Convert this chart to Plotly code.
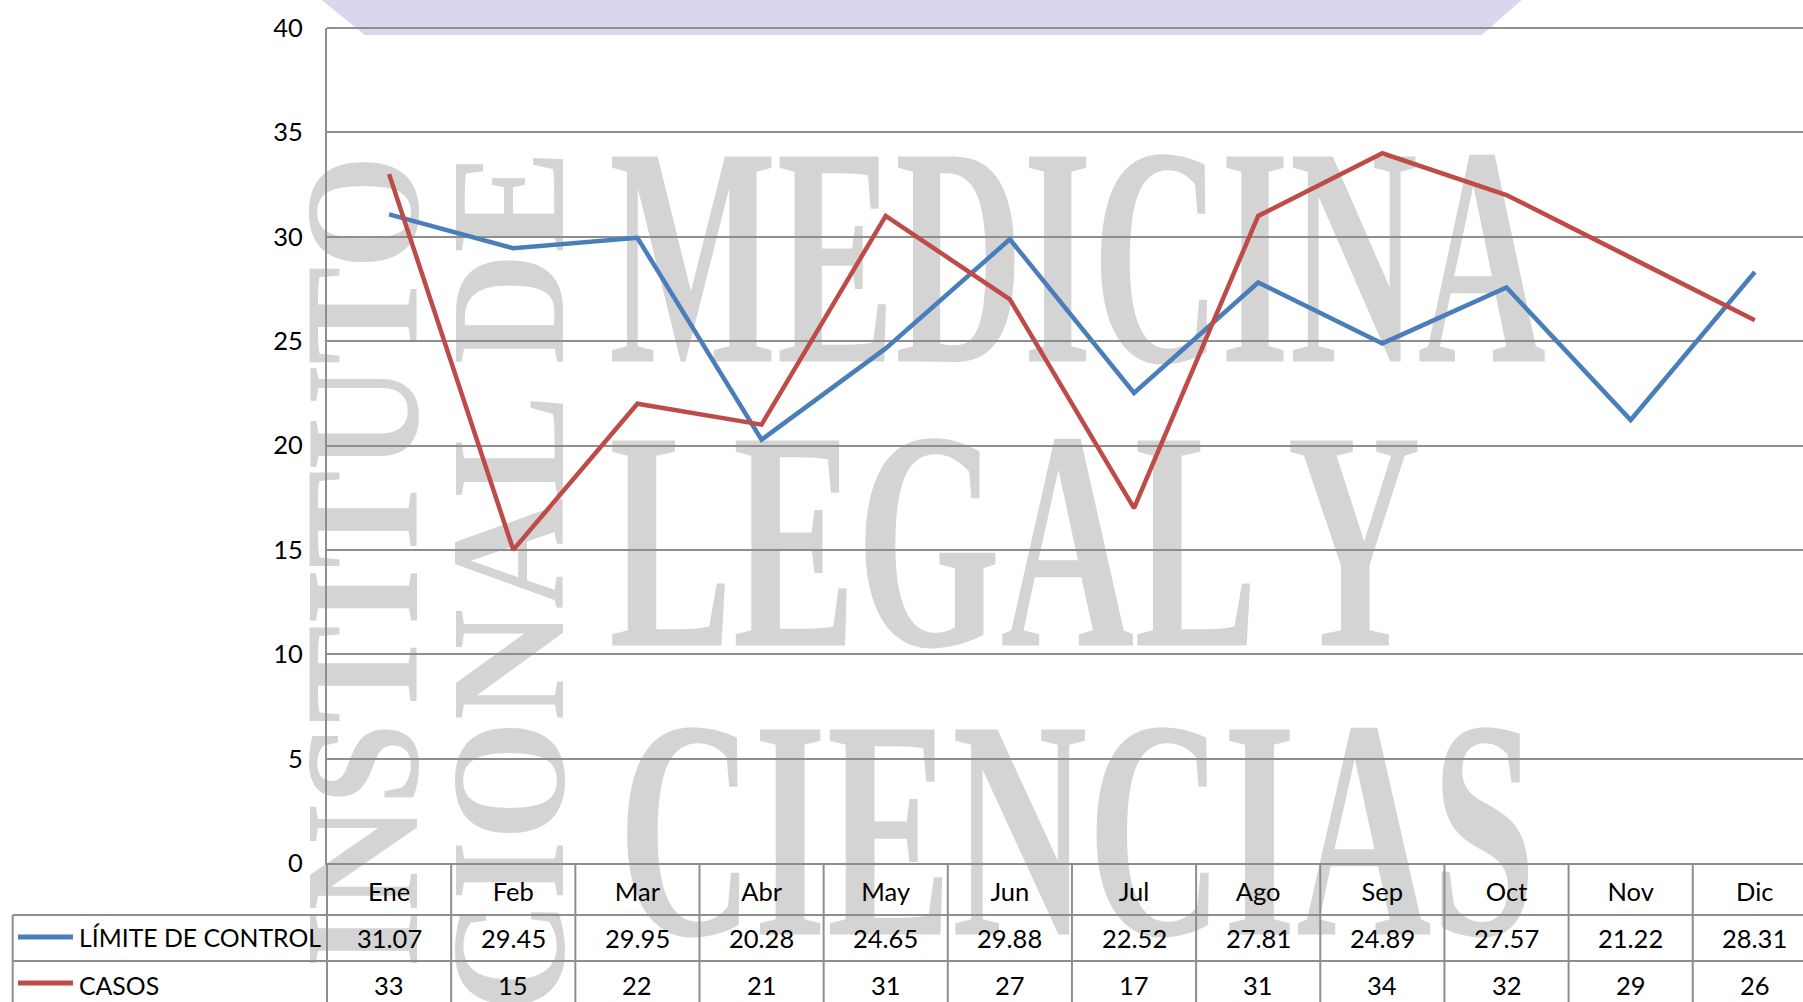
import plotly.graph_objects as go

# ---------------- data ----------------
months = ["Ene", "Feb", "Mar", "Abr", "May", "Jun", "Jul", "Ago", "Sep", "Oct", "Nov", "Dic"]
limite_control = [31.07, 29.45, 29.95, 20.28, 24.65, 29.88, 22.52, 27.81, 24.89, 27.57, 21.22, 28.31]
casos = [33, 15, 22, 21, 31, 27, 17, 31, 34, 32, 29, 26]
series_names = ["LÍMITE DE CONTROL", "CASOS"]
y_ticks = [0, 5, 10, 15, 20, 25, 30, 35, 40]
watermark_words = ["MEDICINA", "LEGAL Y", "CIENCIAS", "INSTITUTO", "NACIONAL DE"]

# ---------------- layout geometry ----------------
W, H = 1803, 1002
ML, MR, MT, MB = 327, 0, 28, 139
PW, PH = W - ML - MR, H - MT - MB
XR = (-0.5, 11.388)

BLUE = "#4A7EBB"
RED = "#BE4B48"
GRID = "#8E8E8E"
FONT = "Lato"
FS = 25.5


def px_x(px):
    return (px - ML) / PW


def px_y(py):
    return (H - MB - py) / PH


def cat_x(v):
    return (v - XR[0]) / (XR[1] - XR[0])


fig = go.Figure()
fig.add_trace(go.Scatter(x=months, y=limite_control, mode="lines", name=series_names[0],
                         line=dict(color=BLUE, width=4.5), hoverinfo="skip"))
fig.add_trace(go.Scatter(x=months, y=casos, mode="lines", name=series_names[1],
                         line=dict(color=RED, width=4.5), hoverinfo="skip"))

shapes = []
# lavender band at the top
tz = [(321.7, 0), (365, 35), (1481.7, 35), (1521.7, 0)]
path = "M " + " L ".join(f"{px_x(a):.5f},{px_y(b):.5f}" for a, b in tz) + " Z"
shapes.append(dict(type="path", xref="paper", yref="paper", path=path, layer="below",
                   fillcolor="#D9D6EE", line=dict(width=0)))

# watermark words (shape labels drawn below gridlines)
wm_sizes = {"MEDICINA": 313, "LEGAL Y": 313, "CIENCIAS": 313, "INSTITUTO": 163, "NACIONAL DE": 163}
for w in watermark_words:
    rot = w in ("INSTITUTO", "NACIONAL DE")
    shapes.append(dict(type="rect", xref="paper", yref="paper", x0=0.2, x1=0.8, y0=0.3, y1=0.7,
                       layer="below", fillcolor="rgba(0,0,0,0)", line=dict(width=0),
                       label=dict(text=w, textangle=-90 if rot else 0, textposition="middle center",
                                  font=dict(family="Liberation Serif", size=wm_sizes[w],
                                            color="#D4D4D4", weight="bold"))))

# top gridline (value 40) at the upper edge of the plot area
shapes.append(dict(type="line", xref="paper", yref="paper", x0=0, x1=1, y0=1, y1=1,
                   line=dict(color=GRID, width=2), layer="between"))

# data-table grid
line_style = dict(color=GRID, width=2)
y_axis_bottom = px_y(H - MB)
y_row2 = px_y(915)
y_row3 = px_y(961)
y_bottom = px_y(H + 20)
for i in range(len(months) + 1):
    xv = cat_x(i - 0.5)
    if xv > 1.001:
        continue
    shapes.append(dict(type="line", xref="paper", yref="paper", x0=xv, x1=xv,
                       y0=y_axis_bottom, y1=y_bottom, line=line_style, layer="above"))
x_left = px_x(12.7)
shapes.append(dict(type="line", xref="paper", yref="paper", x0=x_left, x1=x_left,
                   y0=y_row2, y1=y_bottom, line=line_style, layer="above"))
for yy in (y_row2, y_row3):
    shapes.append(dict(type="line", xref="paper", yref="paper", x0=x_left, x1=1.0,
                       y0=yy, y1=yy, line=line_style, layer="above"))

# legend keys in the table
key_centers = [937, 983]
key_colors = [BLUE, RED]
for yc, col in zip(key_centers, key_colors):
    shapes.append(dict(type="line", xref="paper", yref="paper", x0=px_x(18), x1=px_x(73),
                       y0=px_y(yc), y1=px_y(yc), line=dict(color=col, width=5), layer="above"))

annotations = []
text_centers = [938, 985]
for name, yc in zip(series_names, text_centers):
    annotations.append(dict(xref="paper", yref="paper", x=px_x(77), y=px_y(yc), text=name,
                            showarrow=False, xanchor="left", yanchor="middle",
                            font=dict(family=FONT, size=24.8, color="black")))
for vals, yc in zip([limite_control, casos], text_centers):
    for m, v in zip(months, vals):
        annotations.append(dict(xref="x", yref="paper", x=m, y=px_y(yc),
                                text=f"{v:g}" if isinstance(v, int) else f"{v:.2f}",
                                showarrow=False, xanchor="center", yanchor="middle",
                                font=dict(family=FONT, size=FS, color="black")))

fig.update_layout(
    width=W, height=H,
    margin=dict(l=ML, r=MR, t=MT, b=MB, pad=0),
    paper_bgcolor="white", plot_bgcolor="rgba(0,0,0,0)",
    showlegend=False, hovermode=False,
    shapes=shapes, annotations=annotations,
    font=dict(family=FONT, size=FS, color="black"),
    xaxis=dict(type="category", categoryorder="array", categoryarray=months, range=list(XR),
               showgrid=False, zeroline=False, showline=True, linecolor=GRID, linewidth=2,
               ticks="", ticklabelstandoff=5, tickfont=dict(family=FONT, size=FS, color="black"),
               fixedrange=True),
    yaxis=dict(range=[0, 40], tickvals=y_ticks, showgrid=True, gridcolor=GRID, gridwidth=2,
               zeroline=False, showline=True, linecolor=GRID, linewidth=2, ticks="",
               ticklabelstandoff=17, tickfont=dict(family=FONT, size=FS, color="black"),
               fixedrange=True),
)

post = r"""
var gd = document.getElementById('{plot_id}');
document.body.style.margin = '0';
document.body.style.overflow = 'hidden';
var specs = {
  'MEDICINA':    {rot:false, a0:609, a1:1546, c:256},
  'LEGAL Y':     {rot:false, a0:609, a1:1421, c:540},
  'CIENCIAS':    {rot:false, a0:618, a1:1536, c:829},
  'INSTITUTO':   {rot:true,  a0:155, a1:968,  c:362},
  'NACIONAL DE': {rot:true,  a0:150, a1:1235, c:508}
};
var NS = 'http://www.w3.org/2000/svg';
function fitWM(){
  var base = gd.getBoundingClientRect();
  var texts = gd.querySelectorAll('text');
  for (var i = 0; i < texts.length; i++){
    var t = texts[i];
    var key = (t.textContent || '').replace(/[\s\u00a0]+/g, ' ').trim();
    var s = specs[key];
    if (!s) continue;
    var w = t.parentNode;
    if (!((w.getAttribute('class') || '').match(/wm-wrap/))){
      var nw = document.createElementNS(NS, 'g');
      nw.setAttribute('class', 'wm-wrap');
      w.insertBefore(nw, t); nw.appendChild(t); w = nw;
    }
    w.removeAttribute('transform');
    var r = t.getBoundingClientRect();
    var ctm = w.getScreenCTM();
    var ox = ctm.e, oy = ctm.f;
    var a0, a1, c, k, tx, ty;
    if (!s.rot){
      a0 = base.left + s.a0; a1 = base.left + s.a1; c = base.top + s.c;
      k = (a1 - a0) / (r.right - r.left);
      tx = (a0 - ox) - k * (r.left - ox);
      ty = c - (r.top + r.bottom) / 2;
      w.setAttribute('transform', 'matrix(' + k + ',0,0,1,' + tx + ',' + ty + ')');
    } else {
      a0 = base.top + s.a0; a1 = base.top + s.a1; c = base.left + s.c;
      k = (a1 - a0) / (r.bottom - r.top);
      ty = (a0 - oy) - k * (r.top - oy);
      tx = c - (r.left + r.right) / 2;
      w.setAttribute('transform', 'matrix(1,0,0,' + k + ',' + tx + ',' + ty + ')');
    }
  }
}
fitWM();
gd.on('plotly_afterplot', fitWM);
if (document.fonts && document.fonts.ready) { document.fonts.ready.then(fitWM); }
"""

fig.write_html("out.html", post_script=post, config={"displayModeBar": False})
